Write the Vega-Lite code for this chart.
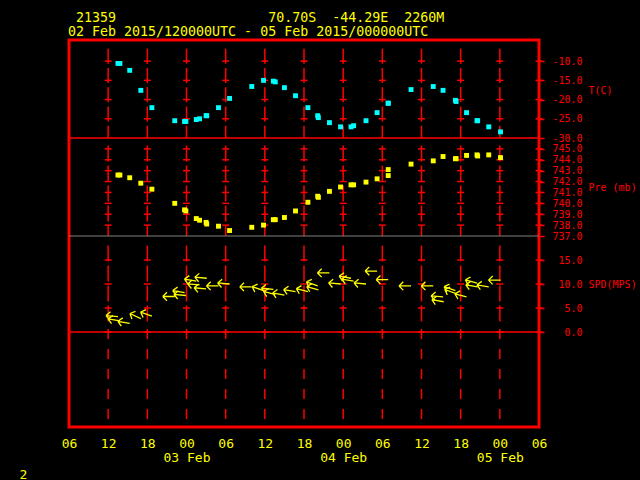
{
  "$schema": "https://vega.github.io/schema/vega-lite/v6.json",
  "background": "#000000",
  "width": 470,
  "height": 387,
  "autosize": {"type": "none"},
  "padding": {"left": 69, "top": 40, "right": 101, "bottom": 53},
  "title": {
    "text": ["\u200b\u00a021359\u00a0\u00a0\u00a0\u00a0\u00a0\u00a0\u00a0\u00a0\u00a0\u00a0\u00a0\u00a0\u00a0\u00a0\u00a0\u00a0\u00a0\u00a0\u00a070.70S\u00a0\u00a0-44.29E\u00a0\u00a02260M", "02 Feb 2015/120000UTC - 05 Feb 2015/000000UTC"],
    "anchor": "start", "frame": "group", "font": "DejaVu Sans Mono", "fontSize": 13.3, "fontWeight": "normal",
    "color": "#ffff00", "lineHeight": 13.5, "baseline": "bottom", "offset": 2, "dy": 14, "dx": -1
  },
  "datasets": {
    "grid": [
      {"t": "2015-02-02T12:00:00Z", "Tl": [-10, -15, -20, -25], "Pl": [738, 739, 740, 741, 742, 743, 744, 745], "Sl": [0, 5, 10, 15]},
      {"t": "2015-02-02T18:00:00Z", "Tl": [-10, -15, -20, -25], "Pl": [738, 739, 740, 741, 742, 743, 744, 745], "Sl": [0, 5, 10, 15]},
      {"t": "2015-02-03T00:00:00Z", "Tl": [-10, -15, -20, -25], "Pl": [738, 739, 740, 741, 742, 743, 744, 745], "Sl": [0, 5, 10, 15]},
      {"t": "2015-02-03T06:00:00Z", "Tl": [-10, -15, -20, -25], "Pl": [738, 739, 740, 741, 742, 743, 744, 745], "Sl": [0, 5, 10, 15]},
      {"t": "2015-02-03T12:00:00Z", "Tl": [-10, -15, -20, -25], "Pl": [738, 739, 740, 741, 742, 743, 744, 745], "Sl": [0, 5, 10, 15]},
      {"t": "2015-02-03T18:00:00Z", "Tl": [-10, -15, -20, -25], "Pl": [738, 739, 740, 741, 742, 743, 744, 745], "Sl": [0, 5, 10, 15]},
      {"t": "2015-02-04T00:00:00Z", "Tl": [-10, -15, -20, -25], "Pl": [738, 739, 740, 741, 742, 743, 744, 745], "Sl": [0, 5, 10, 15]},
      {"t": "2015-02-04T06:00:00Z", "Tl": [-10, -15, -20, -25], "Pl": [738, 739, 740, 741, 742, 743, 744, 745], "Sl": [0, 5, 10, 15]},
      {"t": "2015-02-04T12:00:00Z", "Tl": [-10, -15, -20, -25], "Pl": [738, 739, 740, 741, 742, 743, 744, 745], "Sl": [0, 5, 10, 15]},
      {"t": "2015-02-04T18:00:00Z", "Tl": [-10, -15, -20, -25], "Pl": [738, 739, 740, 741, 742, 743, 744, 745], "Sl": [0, 5, 10, 15]},
      {"t": "2015-02-05T00:00:00Z", "Tl": [-10, -15, -20, -25], "Pl": [738, 739, 740, 741, 742, 743, 744, 745], "Sl": [0, 5, 10, 15]},
      {"t": "2015-02-05T06:00:00Z", "Tl": [-10, -15, -20, -25], "Pl": [738, 739, 740, 741, 742, 743, 744, 745], "Sl": [0, 5, 10, 15]}
    ],
    "obs": [
      {"t": "2015-02-02T13:30:00Z", "T": -10.6, "P": 742.6},
      {"t": "2015-02-02T13:48:00Z", "T": -10.6, "P": 742.6},
      {"t": "2015-02-02T15:18:00Z", "T": -12.4, "P": 742.35},
      {"t": "2015-02-02T17:00:00Z", "T": -17.6, "P": 741.85},
      {"t": "2015-02-02T18:42:00Z", "T": -22.1, "P": 741.3},
      {"t": "2015-02-02T22:12:00Z", "T": -25.5, "P": 740.0},
      {"t": "2015-02-02T23:42:00Z", "T": -25.7, "P": 739.4},
      {"t": "2015-02-02T23:54:00Z", "T": -25.7, "P": 739.3},
      {"t": "2015-02-03T01:30:00Z", "T": -25.2, "P": 738.6},
      {"t": "2015-02-03T02:00:00Z", "T": -25.0, "P": 738.45},
      {"t": "2015-02-03T03:00:00Z", "T": -24.2, "P": 738.25},
      {"t": "2015-02-03T03:06:00Z", "T": -24.2, "P": 738.1},
      {"t": "2015-02-03T04:54:00Z", "T": -22.1, "P": 737.9},
      {"t": "2015-02-03T06:36:00Z", "T": -19.7, "P": 737.5},
      {"t": "2015-02-03T10:00:00Z", "T": -16.6, "P": 737.8},
      {"t": "2015-02-03T11:48:00Z", "T": -15.0, "P": 738.0},
      {"t": "2015-02-03T13:18:00Z", "T": -15.2, "P": 738.5},
      {"t": "2015-02-03T13:36:00Z", "T": -15.4, "P": 738.5},
      {"t": "2015-02-03T15:00:00Z", "T": -16.9, "P": 738.7},
      {"t": "2015-02-03T16:42:00Z", "T": -19.0, "P": 739.3},
      {"t": "2015-02-03T18:36:00Z", "T": -22.1, "P": 740.1},
      {"t": "2015-02-03T20:06:00Z", "T": -24.2, "P": 740.65},
      {"t": "2015-02-03T20:12:00Z", "T": -24.7, "P": 740.55},
      {"t": "2015-02-03T21:54:00Z", "T": -26.0, "P": 741.1},
      {"t": "2015-02-03T23:36:00Z", "T": -27.1, "P": 741.5},
      {"t": "2015-02-04T01:12:00Z", "T": -27.1, "P": 741.7},
      {"t": "2015-02-04T01:36:00Z", "T": -26.8, "P": 741.7},
      {"t": "2015-02-04T03:30:00Z", "T": -25.5, "P": 741.95},
      {"t": "2015-02-04T05:12:00Z", "T": -23.4, "P": 742.25},
      {"t": "2015-02-04T06:54:00Z", "T": -21.0, "P": 743.1},
      {"t": "2015-02-04T06:54:00Z", "T": -20.9, "P": 742.55},
      {"t": "2015-02-04T10:24:00Z", "T": -17.4, "P": 743.6},
      {"t": "2015-02-04T13:48:00Z", "T": -16.6, "P": 743.9},
      {"t": "2015-02-04T15:18:00Z", "T": -17.6, "P": 744.3},
      {"t": "2015-02-04T17:12:00Z", "T": -20.2, "P": 744.1},
      {"t": "2015-02-04T17:18:00Z", "T": -20.5, "P": 744.1},
      {"t": "2015-02-04T18:54:00Z", "T": -23.4, "P": 744.4},
      {"t": "2015-02-04T20:30:00Z", "T": -25.5, "P": 744.45},
      {"t": "2015-02-04T20:36:00Z", "T": -25.5, "P": 744.35},
      {"t": "2015-02-04T22:18:00Z", "T": -27.1, "P": 744.45},
      {"t": "2015-02-05T00:06:00Z", "T": -28.4, "P": 744.2}
    ],
    "wind": [
      {"t": "2015-02-02T13:30:00Z", "S": 3.2, "dir": 95},
      {"t": "2015-02-02T13:48:00Z", "S": 2.3, "dir": 100},
      {"t": "2015-02-02T15:18:00Z", "S": 1.8, "dir": 100},
      {"t": "2015-02-02T17:00:00Z", "S": 2.8, "dir": 115},
      {"t": "2015-02-02T18:42:00Z", "S": 3.3, "dir": 110},
      {"t": "2015-02-02T22:12:00Z", "S": 7.4, "dir": 90},
      {"t": "2015-02-02T23:42:00Z", "S": 8.2, "dir": 100},
      {"t": "2015-02-02T23:54:00Z", "S": 7.6, "dir": 95},
      {"t": "2015-02-03T01:30:00Z", "S": 10.6, "dir": 100},
      {"t": "2015-02-03T02:00:00Z", "S": 9.8, "dir": 95},
      {"t": "2015-02-03T03:00:00Z", "S": 9.0, "dir": 95},
      {"t": "2015-02-03T03:06:00Z", "S": 11.2, "dir": 95},
      {"t": "2015-02-03T04:54:00Z", "S": 9.6, "dir": 90},
      {"t": "2015-02-03T06:36:00Z", "S": 10.0, "dir": 95},
      {"t": "2015-02-03T10:00:00Z", "S": 9.4, "dir": 90},
      {"t": "2015-02-03T11:48:00Z", "S": 8.6, "dir": 110},
      {"t": "2015-02-03T13:18:00Z", "S": 8.9, "dir": 95},
      {"t": "2015-02-03T13:36:00Z", "S": 7.8, "dir": 105},
      {"t": "2015-02-03T15:00:00Z", "S": 7.7, "dir": 100},
      {"t": "2015-02-03T16:42:00Z", "S": 8.4, "dir": 100},
      {"t": "2015-02-03T18:36:00Z", "S": 8.4, "dir": 105},
      {"t": "2015-02-03T20:06:00Z", "S": 9.6, "dir": 110},
      {"t": "2015-02-03T20:12:00Z", "S": 8.8, "dir": 105},
      {"t": "2015-02-03T21:54:00Z", "S": 12.3, "dir": 90},
      {"t": "2015-02-03T23:36:00Z", "S": 10.0, "dir": 95},
      {"t": "2015-02-04T01:12:00Z", "S": 11.2, "dir": 100},
      {"t": "2015-02-04T01:36:00Z", "S": 10.6, "dir": 100},
      {"t": "2015-02-04T03:30:00Z", "S": 10.0, "dir": 95},
      {"t": "2015-02-04T05:12:00Z", "S": 12.7, "dir": 90},
      {"t": "2015-02-04T06:54:00Z", "S": 10.9, "dir": 90},
      {"t": "2015-02-04T10:24:00Z", "S": 9.6, "dir": 90},
      {"t": "2015-02-04T13:48:00Z", "S": 9.6, "dir": 90},
      {"t": "2015-02-04T15:18:00Z", "S": 7.3, "dir": 95},
      {"t": "2015-02-04T15:24:00Z", "S": 6.3, "dir": 100},
      {"t": "2015-02-04T17:12:00Z", "S": 8.6, "dir": 110},
      {"t": "2015-02-04T17:18:00Z", "S": 8.0, "dir": 110},
      {"t": "2015-02-04T18:54:00Z", "S": 7.3, "dir": 105},
      {"t": "2015-02-04T20:30:00Z", "S": 10.2, "dir": 105},
      {"t": "2015-02-04T20:36:00Z", "S": 9.4, "dir": 100},
      {"t": "2015-02-04T22:18:00Z", "S": 9.4, "dir": 100},
      {"t": "2015-02-05T00:06:00Z", "S": 10.8, "dir": 90}
    ]
  },
  "resolve": {"scale": {"y": "independent"}, "axis": {"y": "independent", "x": "independent"}},
  "layer": [
    {
      "data": {"name": "grid"},
      "mark": {"type": "rule", "color": "#ff0000", "strokeWidth": 1.5, "strokeDash": [15, 4.2]},
      "encoding": {
        "x": {"field": "t", "type": "temporal",
          "scale": {"type": "utc", "nice": false, "domain": [{"year": 2015, "month": 2, "date": 2, "hours": 6, "utc": true}, {"year": 2015, "month": 2, "date": 5, "hours": 6, "utc": true}]},
          "axis": {
            "values": [
              {"year": 2015, "month": 2, "date": 2, "hours": 6, "utc": true},
              {"year": 2015, "month": 2, "date": 2, "hours": 12, "utc": true},
              {"year": 2015, "month": 2, "date": 2, "hours": 18, "utc": true},
              {"year": 2015, "month": 2, "date": 3, "hours": 0, "utc": true},
              {"year": 2015, "month": 2, "date": 3, "hours": 6, "utc": true},
              {"year": 2015, "month": 2, "date": 3, "hours": 12, "utc": true},
              {"year": 2015, "month": 2, "date": 3, "hours": 18, "utc": true},
              {"year": 2015, "month": 2, "date": 4, "hours": 0, "utc": true},
              {"year": 2015, "month": 2, "date": 4, "hours": 6, "utc": true},
              {"year": 2015, "month": 2, "date": 4, "hours": 12, "utc": true},
              {"year": 2015, "month": 2, "date": 4, "hours": 18, "utc": true},
              {"year": 2015, "month": 2, "date": 5, "hours": 0, "utc": true},
              {"year": 2015, "month": 2, "date": 5, "hours": 6, "utc": true}
            ],
            "labelExpr": "utchours(datum.value) == 0 ? [utcFormat(datum.value, '%H'), utcFormat(datum.value, '%d %b')] : utcFormat(datum.value, '%H')",
            "labelFont": "DejaVu Sans Mono", "labelFontSize": 13, "labelColor": "#ffff00", "labelPadding": 10, "labelLineHeight": 14,
            "labelFlush": false, "labelOverlap": false, "labelBound": false,
            "ticks": false, "domain": false, "grid": false,
            "title": "2", "titleX": -50, "titleY": 51, "titleAlign": "left", "titleBaseline": "alphabetic", "titleAngle": 0,
            "titleColor": "#ffff00", "titleFont": "DejaVu Sans Mono", "titleFontSize": 13, "titleFontWeight": "normal"
          }},
        "y": {"datum": -6.8, "type": "quantitative", "scale": {"domain": [-30, -4.5], "range": [98, 0], "nice": false, "zero": false}, "axis": null},
        "y2": {"datum": -30}
      }
    },
    {
      "data": {"name": "grid"},
      "transform": [{"flatten": ["Tl"], "as": ["Tv"]}],
      "mark": {"type": "tick", "orient": "horizontal", "color": "#ff0000", "size": 7, "thickness": 1.5, "opacity": 1},
      "encoding": {
        "x": {"field": "t", "type": "temporal", "axis": null},
        "y": {"field": "Tv", "type": "quantitative", "scale": {"domain": [-30, -4.5], "range": [98, 0], "nice": false, "zero": false}, "axis": null}
      }
    },
    {
      "data": {"values": [{}]},
      "mark": {"type": "rule", "color": "#ff0000", "strokeWidth": 1.5},
      "encoding": {
        "y": {"datum": -30, "type": "quantitative", "scale": {"domain": [-30, -4.5], "range": [98, 0], "nice": false, "zero": false}, "axis": null}
      }
    },
    {
      "data": {"name": "obs"},
      "mark": {"type": "square", "color": "#00ffff", "size": 24, "opacity": 1},
      "encoding": {
        "x": {"field": "t", "type": "temporal", "axis": null},
        "y": {"field": "T", "type": "quantitative", "scale": {"domain": [-30, -4.5], "range": [98, 0], "nice": false, "zero": false},
          "axis": {"orient": "right", "values": [-10, -15, -20, -25, -30],
            "labelExpr": "(datum.value < 0 ? '-' : '') + format(abs(datum.value), '.1f')",
            "labelFont": "DejaVu Sans Mono", "labelFontSize": 10, "labelColor": "#ff0000", "labelAlign": "right", "labelBaseline": "middle",
            "labelPadding": 38, "labelOverlap": false, "labelBound": false, "labelFlush": false,
            "tickColor": "#ff0000", "tickSize": 5, "tickWidth": 1.5, "domain": false, "grid": false,
            "title": "T(C)", "titleAngle": 0, "titleAlign": "left", "titleBaseline": "middle", "titleX": 49, "titleY": 50,
            "titleColor": "#ff0000", "titleFont": "DejaVu Sans Mono", "titleFontSize": 10, "titleFontWeight": "normal"}}
      }
    },
    {
      "data": {"name": "grid"},
      "mark": {"type": "rule", "color": "#ff0000", "strokeWidth": 1.5, "strokeDash": [16, 4]},
      "encoding": {
        "x": {"field": "t", "type": "temporal", "axis": null},
        "y": {"datum": 745.3, "type": "quantitative", "scale": {"domain": [737, 746], "range": [196, 98], "nice": false, "zero": false}, "axis": null},
        "y2": {"datum": 737}
      }
    },
    {
      "data": {"name": "grid"},
      "transform": [{"flatten": ["Pl"], "as": ["Pv"]}],
      "mark": {"type": "tick", "orient": "horizontal", "color": "#ff0000", "size": 7, "thickness": 1.5, "opacity": 1},
      "encoding": {
        "x": {"field": "t", "type": "temporal", "axis": null},
        "y": {"field": "Pv", "type": "quantitative", "scale": {"domain": [737, 746], "range": [196, 98], "nice": false, "zero": false}, "axis": null}
      }
    },
    {
      "data": {"values": [{}]},
      "mark": {"type": "rule", "color": "#808080", "strokeWidth": 1},
      "encoding": {
        "y": {"datum": 737, "type": "quantitative", "scale": {"domain": [737, 746], "range": [196, 98], "nice": false, "zero": false}, "axis": null}
      }
    },
    {
      "data": {"name": "obs"},
      "mark": {"type": "square", "color": "#ffff00", "size": 24, "opacity": 1},
      "encoding": {
        "x": {"field": "t", "type": "temporal", "axis": null},
        "y": {"field": "P", "type": "quantitative", "scale": {"domain": [737, 746], "range": [196, 98], "nice": false, "zero": false},
          "axis": {"orient": "right", "values": [737, 738, 739, 740, 741, 742, 743, 744, 745],
            "format": ".1f",
            "labelFont": "DejaVu Sans Mono", "labelFontSize": 10, "labelColor": "#ff0000", "labelAlign": "right", "labelBaseline": "middle",
            "labelPadding": 38, "labelOverlap": false, "labelBound": false, "labelFlush": false,
            "tickColor": "#ff0000", "tickSize": 5, "tickWidth": 1.5, "domain": false, "grid": false,
            "title": "Pre (mb)", "titleAngle": 0, "titleAlign": "left", "titleBaseline": "middle", "titleX": 49, "titleY": 147,
            "titleColor": "#ff0000", "titleFont": "DejaVu Sans Mono", "titleFontSize": 10, "titleFontWeight": "normal"}}
      }
    },
    {
      "data": {"name": "grid"},
      "mark": {"type": "rule", "color": "#ff0000", "strokeWidth": 1.5, "strokeDash": [16, 4]},
      "encoding": {
        "x": {"field": "t", "type": "temporal", "axis": null},
        "y": {"datum": 18, "type": "quantitative", "scale": {"domain": [0, 20], "range": [292, 196], "nice": false, "zero": false}, "axis": null},
        "y2": {"datum": 2.1}
      }
    },
    {
      "data": {"name": "grid"},
      "mark": {"type": "rule", "color": "#ff0000", "strokeWidth": 1.5, "strokeDash": [10, 10]},
      "encoding": {
        "x": {"field": "t", "type": "temporal", "axis": null},
        "y": {"datum": 0.6, "type": "quantitative", "scale": {"domain": [0, 20], "range": [292, 196], "nice": false, "zero": false}, "axis": null},
        "y2": {"datum": -18.1}
      }
    },
    {
      "data": {"name": "grid"},
      "transform": [{"flatten": ["Sl"], "as": ["Sv"]}],
      "mark": {"type": "tick", "orient": "horizontal", "color": "#ff0000", "size": 7, "thickness": 1.5, "opacity": 1},
      "encoding": {
        "x": {"field": "t", "type": "temporal", "axis": null},
        "y": {"field": "Sv", "type": "quantitative", "scale": {"domain": [0, 20], "range": [292, 196], "nice": false, "zero": false}, "axis": null}
      }
    },
    {
      "data": {"values": [{}]},
      "mark": {"type": "rule", "color": "#ff0000", "strokeWidth": 1.5},
      "encoding": {
        "y": {"datum": 0, "type": "quantitative", "scale": {"domain": [0, 20], "range": [292, 196], "nice": false, "zero": false}, "axis": null}
      }
    },
    {
      "data": {"name": "wind"},
      "mark": {"type": "point", "shape": "M0,0L-2,0M-2,0L-1.3,-0.7M-2,0L-1.3,0.7", "filled": false, "color": "#ffff00", "strokeWidth": 1.3, "size": 144, "opacity": 1},
      "encoding": {
        "x": {"field": "t", "type": "temporal", "axis": null},
        "y": {"field": "S", "type": "quantitative", "scale": {"domain": [0, 20], "range": [292, 196], "nice": false, "zero": false},
          "axis": {"orient": "right", "values": [0, 5, 10, 15],
            "format": ".1f",
            "labelFont": "DejaVu Sans Mono", "labelFontSize": 10, "labelColor": "#ff0000", "labelAlign": "right", "labelBaseline": "middle",
            "labelPadding": 38, "labelOverlap": false, "labelBound": false, "labelFlush": false,
            "tickColor": "#ff0000", "tickSize": 5, "tickWidth": 1.5, "domain": false, "grid": false,
            "title": "SPD(MPS)", "titleAngle": 0, "titleAlign": "left", "titleBaseline": "middle", "titleX": 49, "titleY": 244,
            "titleColor": "#ff0000", "titleFont": "DejaVu Sans Mono", "titleFontSize": 10, "titleFontWeight": "normal"}},
        "angle": {"field": "dir", "type": "quantitative", "scale": {"domain": [0, 360], "range": [-90, 270]}}
      }
    }
  ],
  "config": {
    "view": {"stroke": "#ff0000", "strokeWidth": 3}
  }
}
